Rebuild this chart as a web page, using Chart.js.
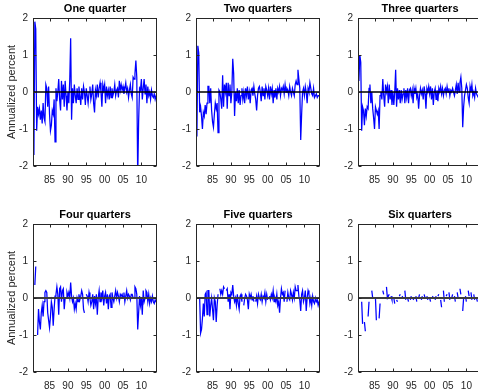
<!DOCTYPE html>
<html><head><meta charset="utf-8">
<script src="https://cdn.jsdelivr.net/npm/chart.js@4/dist/chart.umd.min.js"></script>
<style>
html,body{margin:0;padding:0;background:#fff;width:478px;height:389px;overflow:hidden;position:relative}
canvas{position:absolute;left:0;top:0}
</style></head><body>
<canvas id="c0" width="500" height="420"></canvas>
<canvas id="c1" width="500" height="420"></canvas>
<canvas id="c2" width="500" height="420"></canvas>
<canvas id="c3" width="500" height="420"></canvas>
<canvas id="c4" width="500" height="420"></canvas>
<canvas id="c5" width="500" height="420"></canvas>
<script>
// ---------------- data ----------------
const startYear = 1980.5;            // 1980Q3, quarterly observations
const panelTitles = ['One quarter','Two quarters','Three quarters','Four quarters','Five quarters','Six quarters'];
const yAxisLabel = 'Annualized percent';
const xTickValues = [1985, 1990, 1995, 2000, 2005, 2010];
const xTickLabels = ['85', '90', '95', '00', '05', '10'];
const yTickValues = [-2, -1, 0, 1, 2];

const oneQuarter = [
 -0.3, -1.7,
 1.9, 1.7, -1.05, -0.4,
 -0.6, -0.45, -0.75, -0.5,
 -0.85, -0.3, -0.7, -0.8,
 0.2, 0.1, -0.4, 0.15,
 -0.6, -1.05, -0.9, -0.5,
 -0.6, -0.2, -1.35, 0.1,
 -0.25, 0.0, 0.35, -0.2,
 -0.5, 0.3, -0.2, 0.2,
 -0.4, 0.3, -0.1, -0.5,
 0.0, -0.3, 0.3, 1.45,
 -0.75, 0.1, -0.3, 0.2,
 -0.1, -0.3, 0.1, -0.2,
 0.15, -0.1, -0.35, 0.1,
 -0.2, 0.15, 0.0, -0.35,
 0.1, -0.1, -0.3, 0.0,
 0.15, -0.2, -0.05, 0.2,
 -0.3, -0.55, 0.05, -0.1,
 0.2, -0.15, 0.1, 0.25,
 0.0, -0.4, 0.2, 0.05,
 0.2, -0.3, 0.15, -0.1,
 0.05, -0.2, 0.15, -0.15,
 0.1, -0.1, 0.0, 0.2,
 -0.1, 0.05, 0.1, -0.15,
 0.3, 0.05, 0.2, 0.05,
 0.15, -0.05, 0.1, 0.25,
 0.0, 0.1, -0.15, 0.05,
 0.2, -0.05, -0.15, 0.4,
 0.35, 0.5, 0.85, 0.4,
 -2.3, -0.8, 0.1, 0.05,
 0.35, -0.2, 0.1, 0.35,
 -0.05, 0.2, -0.3, 0.15,
 -0.1, 0.0, -0.2, 0.05,
 -0.1, -0.15, -0.05, -0.2,
 -0.1, -0.15
];
const twoQuarters = [
 -0.5, -1.2,
 1.25, 1.05, -0.55, -0.4,
 -0.65, -1.0, -0.55, -0.65,
 -0.35, -0.6, -0.3, 0.15,
 0.15, -0.3, 0.1, -0.5,
 -0.8, -0.95, -0.6, -0.3,
 -0.45, -0.3, -1.1, 0.05,
 0.0, -0.2, -0.45, 0.45,
 -0.4, 0.2, 0.0, 0.25,
 -0.45, 0.25, -0.1, 0.2,
 -0.3, 0.0, 0.9, 0.5,
 -0.65, 0.0, -0.25, 0.1,
 -0.3, 0.05, -0.35, -0.1,
 0.1, -0.2, 0.0, -0.3,
 0.1, -0.1, 0.15, -0.2,
 0.0, -0.3, 0.05, 0.1,
 -0.1, 0.15, -0.05, -0.2,
 -0.5, -0.1, 0.1, 0.15,
 0.0, -0.25, 0.15, -0.1,
 0.1, -0.2, 0.15, 0.05,
 -0.1, 0.1, -0.2, 0.15,
 -0.05, 0.1, -0.3, 0.05,
 -0.15, 0.1, -0.2, 0.1,
 0.0, 0.15, -0.1, 0.1,
 0.05, 0.15, -0.05, 0.2,
 0.0, 0.1, 0.05, -0.1,
 0.15, 0.0, -0.1, 0.1,
 0.0, -0.1, 0.2, 0.3,
 0.2, 0.6, 0.35, 0.1,
 -1.3, -0.6, 0.0, 0.1,
 -0.1, 0.15, 0.0, -0.3,
 0.1, 0.0, 0.25, 0.1,
 -0.05, -0.1, 0.1, -0.15,
 -0.1, -0.05, -0.15, -0.1,
 -0.1, -0.15
];
const threeQuarters = [
 1.0, 0.3,
 1.0, 0.8, -1.05, -0.4,
 -0.5, -0.9, -0.45, -0.65,
 -0.4, -0.45, 0.1, 0.2,
 -0.3, 0.0, -0.45, -0.7,
 -1.0, -0.4, -0.5, -0.6,
 -0.5, -1.0, -0.1, 0.0,
 -0.2, 0.35, -0.1, -0.4,
 0.2, 0.0, 0.15, -0.3,
 0.2, -0.2, 0.05, -0.35,
 0.0, -0.35, 0.0, 0.6,
 -0.4, 0.1, -0.2, 0.05,
 -0.3, 0.05, -0.2, -0.05,
 0.1, -0.3, 0.05, -0.15,
 0.1, -0.3, 0.05, 0.1,
 -0.1, 0.05, -0.3, 0.1,
 -0.05, 0.1, -0.15, -0.05,
 -0.45, -0.1, 0.1, -0.05,
 0.05, -0.2, 0.15, -0.05,
 -0.45, 0.1, 0.0, 0.15,
 -0.05, 0.15, -0.2, 0.1,
 -0.35, 0.0, 0.1, -0.2,
 0.05, -0.25, 0.1, 0.0,
 0.15, -0.05, 0.1, -0.1,
 0.05, 0.1, -0.05, 0.15,
 0.0, 0.1, -0.1, 0.05,
 0.0, 0.1, 0.0, -0.1,
 0.05, 0.2, -0.05, 0.25,
 0.0, 0.25, 0.4, 0.1,
 -0.95, -0.4, -0.1, 0.05,
 0.2, 0.1, -0.15, -0.3,
 0.15, 0.0, 0.2, -0.1,
 0.0, -0.15, 0.1, -0.05,
 -0.1, -0.15, -0.05, -0.1,
 -0.2, -0.05
];
const fourQuarters = [
 null, null,
 0.35, 0.85, null, -1.0,
 -0.3, -0.65, -0.85, -0.4,
 -0.2, -0.5, -0.1, 0.15,
 0.2, 0.15, -0.4, -0.6,
 -0.8, -0.5, -0.1, -0.25,
 -0.75, -0.3, 0.05, 0.1,
 0.3, 0.1, -0.45, 0.25,
 0.3, -0.1, 0.2, 0.25,
 -0.3, 0.0, 0.0, 0.15,
 0.05, 0.15, 0.0, 0.42,
 0.05, -0.1, 0.0, -0.3,
 -0.15, -0.3, 0.0, -0.1,
 0.1, -0.05, 0.05, 0.2,
 0.1, -0.3, -0.4, null,
 0.1, 0.05, -0.1, 0.15,
 0.0, -0.2, -0.1, 0.1,
 -0.3, 0.05, -0.15, 0.1,
 -0.45, 0.0, 0.2, -0.1,
 0.15, 0.0, 0.2, -0.2,
 0.05, 0.15, -0.15, 0.1,
 -0.3, 0.05, 0.1, -0.25,
 0.15, 0.0, -0.1, 0.05,
 0.2, 0.0, 0.15, 0.05,
 -0.1, 0.1, 0.05, 0.1,
 0.0, 0.15, -0.1, 0.05,
 0.2, 0.0, 0.1, 0.05,
 -0.05, 0.1, 0.1, 0.0,
 0.0, 0.3, 0.25, 0.1,
 -0.85, -0.4, 0.05, -0.2,
 0.0, -0.45, 0.2, -0.1,
 0.0, 0.2, 0.15, -0.1,
 0.1, -0.15, 0.0, -0.1,
 0.05, -0.1, -0.15, -0.05,
 -0.1, -0.15
];
const fiveQuarters = [
 null, null,
 null, null, 0.0, -0.95,
 -0.85, -0.55, -0.15, -0.5,
 0.1, 0.15, -0.45, 0.2,
 0.2, -0.5, -0.2, 0.0,
 -0.3, -0.6, 0.0, -0.1,
 -0.65, -0.2, 0.1, null,
 0.25, 0.1, 0.2, 0.1,
 0.3, 0.25, null, 0.2,
 0.25, -0.1, 0.1, -0.3,
 0.15, 0.1, 0.35, 0.05,
 -0.1, 0.0, -0.2, 0.1,
 -0.15, -0.3, 0.05, 0.1,
 -0.1, null, -0.2, 0.0,
 0.1, 0.05, -0.05, -0.3,
 0.1, 0.0, 0.1, -0.05,
 0.05, -0.1, null, -0.1,
 0.05, -0.15, 0.1, 0.0,
 -0.05, 0.1, -0.1, 0.05,
 0.0, 0.15, -0.1, 0.1,
 -0.05, null, 0.05, -0.05,
 0.1, 0.0, 0.2, -0.1,
 0.0, -0.1, 0.1, -0.2,
 -0.1, -0.4, 0.0, 0.25,
 0.1, 0.15, -0.1, 0.2,
 null, -0.1, 0.15, 0.0,
 -0.05, 0.2, 0.1, -0.05,
 0.15, 0.0, 0.3, 0.2,
 0.2, 0.35, 0.05, -0.05,
 -0.35, 0.1, 0.2, -0.1,
 0.0, 0.2, -0.35, 0.0,
 0.2, 0.1, -0.15, 0.0,
 -0.2, 0.05, -0.1, -0.15,
 0.0, -0.1, -0.05, -0.2,
 -0.1, -0.15
];
const sixQuarters = [
 null, null,
 null, null, -0.1, -0.7,
 null, -0.65, -0.9, null,
 null, -0.5, -0.1, null,
 null, 0.2, 0.0, null,
 null, 0.0, -0.6, null,
 null, -0.55, -0.15, null,
 null, 0.2, 0.1, null,
 null, 0.3, 0.0, 0.05,
 0.1, null, 0.05, -0.05,
 null, 0.0, -0.15, null,
 -0.05, -0.1, null, 0.05,
 0.1, null, 0.05, 0.0,
 null, 0.2, -0.05, null,
 0.0, -0.1, null, -0.05,
 0.05, null, -0.05, 0.0,
 null, 0.05, -0.1, null,
 0.0, 0.1, null, -0.05,
 0.05, null, 0.1, 0.0,
 null, 0.05, -0.05, null,
 0.0, -0.1, null, 0.05,
 0.0, null, -0.05, 0.05,
 null, 0.05, 0.1, null,
 -0.05, -0.25, null, 0.2,
 -0.1, null, 0.05, 0.1,
 null, 0.15, -0.05, null,
 0.0, 0.1, null, 0.05,
 -0.1, null, 0.15, 0.0,
 null, 0.25, 0.1, null,
 -0.35, 0.0, null, 0.05,
 -0.1, null, 0.2, 0.05,
 null, 0.15, -0.05, null,
 0.1, -0.05, null, 0.0,
 -0.1, null, 0.05, -0.1,
 null, -0.1
];
const panelSeries = [oneQuarter, twoQuarters, threeQuarters, fourQuarters, fiveQuarters, sixQuarters];

// ---------------- layout / style ----------------
const FONT = "'Liberation Sans', Arial, Helvetica, sans-serif";
const CW = 500, CH = 420;
const colLeft = [33, 196, 358];
const rowTop = [18, 224];
const plotW = 124, plotH = 148;
const xAxisH = 20;
const titleGap = 2, titleLine = 13.2;

const matlabAxes = {
  id: 'matlabAxes',
  afterDatasetsDraw(chart, args, opts) {
    const {ctx, chartArea: a, scales: {x, y}} = chart;
    ctx.save();
    // zero reference line
    const y0 = y.getPixelForValue(0);
    ctx.strokeStyle = opts.zeroColor;
    ctx.lineWidth = opts.zeroWidth;
    ctx.beginPath(); ctx.moveTo(a.left, y0); ctx.lineTo(a.right, y0); ctx.stroke();
    // box
    ctx.strokeStyle = '#262626';
    ctx.lineWidth = 1;
    const l = Math.round(a.left) + 0.5, r = Math.round(a.right) - 0.5;
    const t = Math.round(a.top) + 0.5, b = Math.round(a.bottom) - 0.5;
    ctx.strokeRect(l, t, r - l, b - t);
    // inward tick marks on all four sides
    const tl = 3;
    ctx.beginPath();
    x.ticks.forEach(tk => {
      const px = Math.round(x.getPixelForValue(tk.value)) + 0.5;
      ctx.moveTo(px, b); ctx.lineTo(px, b - tl);
      ctx.moveTo(px, t); ctx.lineTo(px, t + tl);
    });
    y.ticks.forEach(tk => {
      const py = Math.round(y.getPixelForValue(tk.value)) + 0.5;
      ctx.moveTo(l, py); ctx.lineTo(l + tl, py);
      ctx.moveTo(r, py); ctx.lineTo(r - tl, py);
    });
    ctx.stroke();
    ctx.restore();
  }
};

panelSeries.forEach((series, k) => {
  const row = Math.floor(k / 3), col = k % 3;
  const L = colLeft[col], T = rowTop[row];
  const yW = col === 0 ? 28.1 : 30;
  const quarterDates = series.map((_, i) => startYear + i * 0.25);
  const xMin = quarterDates[0], xMax = quarterDates[quarterDates.length - 1];
  new Chart(document.getElementById('c' + k), {
    type: 'line',
    data: {
      datasets: [{
        data: series.map((v, i) => ({x: quarterDates[i], y: v})),
        borderColor: '#0000ff',
        borderWidth: 1.25,
        pointRadius: 0,
        tension: 0,
        spanGaps: false,
        fill: false
      }]
    },
    options: {
      responsive: false,
      animation: false,
      devicePixelRatio: 1,
      events: [],
      layout: {
        padding: {
          left: L - yW,
          right: CW - (L + plotW),
          top: T - titleLine - titleGap,
          bottom: CH - (T + plotH) - xAxisH
        }
      },
      plugins: {
        legend: {display: false},
        tooltip: {enabled: false},
        title: {
          display: true,
          text: panelTitles[k],
          fullSize: false,
          color: '#000',
          font: {family: FONT, size: 11, weight: 'bold', lineHeight: 1.2},
          padding: {top: 0, bottom: titleGap}
        },
        matlabAxes: {
          zeroColor: row === 0 ? '#000000' : '#3c3c3c',
          zeroWidth: row === 0 ? 1.4 : 2.2
        }
      },
      scales: {
        x: {
          type: 'linear',
          min: xMin,
          max: xMax,
          afterBuildTicks: s => { s.ticks = xTickValues.map(v => ({value: v})); },
          afterFit: s => { s.height = xAxisH; },
          grid: {display: false, drawTicks: false},
          border: {display: false},
          ticks: {
            padding: 8,
            color: '#262626',
            font: {family: FONT, size: 10},
            maxRotation: 0,
            autoSkip: false,
            callback: v => xTickLabels[xTickValues.indexOf(v)]
          }
        },
        y: {
          min: -2,
          max: 2,
          afterBuildTicks: s => { s.ticks = yTickValues.map(v => ({value: v})); },
          afterFit: s => { s.width = yW; },
          grid: {display: false, drawTicks: false},
          border: {display: false},
          ticks: {
            padding: 5,
            color: '#262626',
            font: {family: FONT, size: 10}
          },
          title: {
            display: col === 0,
            text: yAxisLabel,
            color: '#262626',
            font: {family: FONT, size: 11},
            padding: 0
          }
        }
      }
    },
    plugins: [matlabAxes]
  });
});
</script>
</body></html>
